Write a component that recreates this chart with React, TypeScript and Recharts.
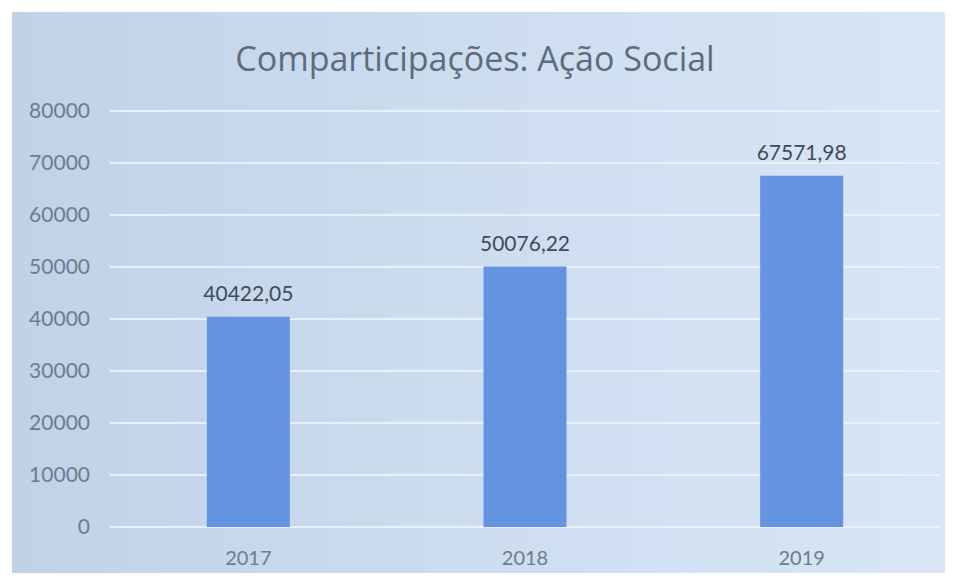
import React from 'react';
import { BarChart, Bar, XAxis, YAxis, CartesianGrid, LabelList } from 'recharts';

const years = ['2017', '2018', '2019'];
const amounts = [40422.05, 50076.22, 67571.98];
const yTicks = [0, 10000, 20000, 30000, 40000, 50000, 60000, 70000, 80000];

const data = years.map((year, i) => ({ year, value: amounts[i] }));

// Portuguese style decimal comma
const fmt = (v: number) => v.toFixed(2).replace('.', ',');

export default function App() {
  return (
    <div style={{ position: 'relative', margin: -8, width: 955, height: 581, background: '#fff', overflow: 'hidden' }}>
      <div
        style={{
          position: 'absolute',
          left: 12,
          top: 12,
          width: 933,
          height: 569,
          background: 'linear-gradient(to right, #c0d2e8 0%, #ccdcef 45%, #d8e6f6 100%)',
        }}
      />
      <div
        style={{
          position: 'absolute',
          left: 0,
          top: 35,
          width: 950,
          textAlign: 'center',
          fontFamily: '"Open Sans", sans-serif',
          fontSize: 34,
          color: '#5d6c7c',
        }}
      >
        Comparticipações: Ação Social
      </div>
      <div style={{ position: 'absolute', left: 0, top: 0 }}>
        <BarChart
          width={955}
          height={581}
          data={data}
          margin={{ top: 111, right: 15, bottom: 14, left: 10 }}
          barCategoryGap="35%"
        >
          <CartesianGrid vertical={false} stroke="#e9f0f9" strokeWidth={2} />
          <XAxis
            dataKey="year"
            axisLine={false}
            tickLine={false}
            height={40}
            tickMargin={18}
            tick={{ fill: '#6d7c8c', fontSize: 20, fontFamily: 'Lato, sans-serif' }}
          />
          <YAxis
            width={100}
            domain={[0, 80000]}
            ticks={yTicks}
            axisLine={false}
            tickLine={false}
            tickMargin={14}
            tick={{ fill: '#6d7c8c', fontSize: 21, fontFamily: 'Lato, sans-serif' }}
          />
          <Bar dataKey="value" fill="#6494e0" isAnimationActive={false}>
            <LabelList
              dataKey="value"
              position="top"
              offset={16}
              formatter={(v: any) => fmt(Number(v))}
              style={{ fill: '#3f4b58', fontSize: 21, fontFamily: 'Lato, sans-serif' }}
            />
          </Bar>
        </BarChart>
      </div>
    </div>
  );
}
